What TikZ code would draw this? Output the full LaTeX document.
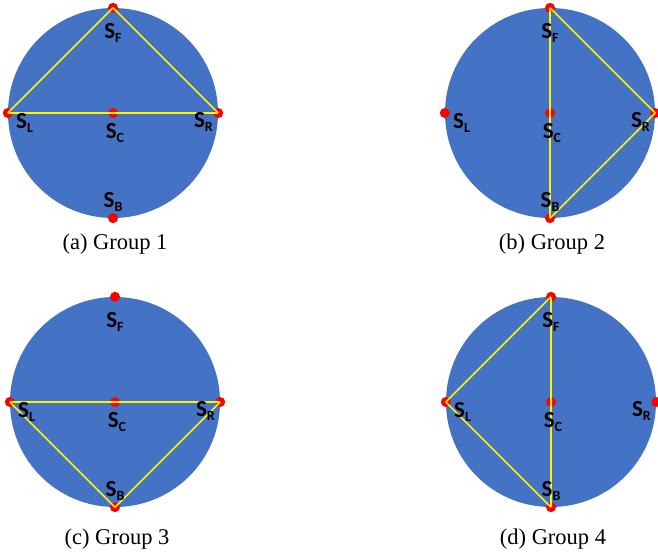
\documentclass[tikz,border=0pt]{standalone}
\usepackage{fontspec}
\setmainfont{Liberation Serif}
\newfontfamily\lblfont{Carlito}
\usetikzlibrary{positioning}

\definecolor{diskblue}{HTML}{4472C4}
\newcommand{\sname}[1]{S\raisebox{-4pt}{\fontsize{14}{14}\selectfont #1}}

\begin{document}
\begin{tikzpicture}[
    x=1pt, y=-1pt,
    disk/.style={circle, fill=diskblue, minimum size=210pt, inner sep=0pt},
    sensor/.style={circle, fill=red, minimum size=10pt, inner sep=0pt},
    lbl/.style={inner sep=0pt, font=\lblfont\bfseries\fontsize{23}{23}\selectfont},
    link/.style={draw=yellow, line width=1.6pt},
    captxt/.style={anchor=base, font=\fontsize{22.5}{22.5}\selectfont}
]
\useasboundingbox (0,0) rectangle (658,556);

% Disks, sensors and captions
\foreach \g/\cx/\cy/\num/\dy in {a/113/113/1/136, b/550/113/2/136, c/115/402/3/142, d/551/402/4/142} {
    \node[disk] (\g disk) at (\cx,\cy) {};
    \node[sensor] (\g F) at (\g disk.north) {};
    \node[sensor] (\g L) at (\g disk.west) {};
    \node[sensor] (\g C) at (\g disk.center) {};
    \node[sensor] (\g R) at (\g disk.east) {};
    \node[sensor] (\g B) at (\g disk.south) {};
    \node[captxt] (\g cap) at (\cx+2,\cy+\dy) {(\g) Group \num};
}

% Group 1
\draw[link] (aF.center) -- (aL.center);
\draw[link] (aF.center) -- (aR.center);
\draw[link] (aL.center) -- (aR.center);

% Group 2
\draw[link] (bF.center) -- (bB.center);
\draw[link] (bF.center) -- (bR.center);
\draw[link] (bR.center) -- (bB.center);

% Group 3
\draw[link] (cL.center) -- (cR.center);
\draw[link] (cL.center) -- (cB.center);
\draw[link] (cR.center) -- (cB.center);

% Group 4
\draw[link] (dF.center) -- (dB.center);
\draw[link] (dF.center) -- (dL.center);
\draw[link] (dL.center) -- (dB.center);

% Sensor labels
\foreach \g in {a,b,c,d} {
    \node[lbl, below=10pt of \g F] (\g lF) {\sname{F}};
    \node[lbl, right=3pt of \g L, yshift=-10pt] (\g lL) {\sname{L}};
    \node[lbl, below=5pt of \g C, xshift=2pt] (\g lC) {\sname{C}};
    \node[lbl, left=0pt of \g R, yshift=-9pt] (\g lR) {\sname{R}};
    \node[lbl, above=1pt of \g B] (\g lB) {\sname{B}};
}

\end{tikzpicture}
\end{document}
